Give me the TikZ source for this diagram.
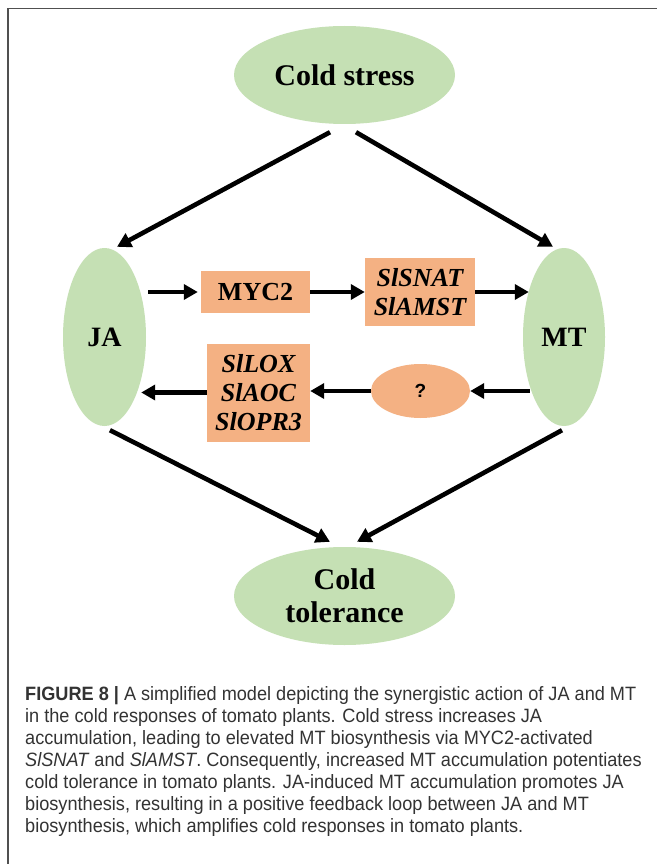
\documentclass[tikz,border=0pt]{standalone}
\usepackage{fontspec}
\setmainfont{Liberation Serif}
\newfontfamily\tnr{Liberation Serif}
\newfontfamily\capfont[FakeStretch=0.94]{Liberation Sans}
\newfontfamily\qfont{Liberation Sans}
\usetikzlibrary{arrows.meta,shapes.geometric}
\definecolor{lgreen}{HTML}{C5E0B4}
\definecolor{lorange}{HTML}{F4B183}
\definecolor{captxt}{HTML}{333333}
\definecolor{framec}{HTML}{505050}
\begin{document}
\begin{tikzpicture}[x=1pt,y=-1pt,
  oval/.style={ellipse, fill=lgreen, draw=none, inner sep=0pt},
  bigtxt/.style={font=\tnr\fontsize{30}{33}\selectfont\bfseries, align=center},
  midtxt/.style={font=\tnr\fontsize{28}{30}\selectfont\bfseries},
  gene/.style={rectangle, fill=lorange, draw=none, inner sep=0pt, align=center,
    font=\tnr\fontsize{26}{29}\selectfont\bfseries},
  arr/.style={line width=4.6pt, -{Triangle[length=14pt,width=15pt]}},
  ]
\useasboundingbox (0,0) rectangle (657,864);
\fill[white] (0,0) rectangle (657,864);
% frame
\draw[line width=1.5pt, framec] (8,864) -- (8,8.5) -- (657,8.5);

% nodes
\node[oval, bigtxt, minimum width=221pt, minimum height=98pt] (CS) at (344.5,75) {Cold stress};
\node[oval, bigtxt, minimum width=221pt, minimum height=98pt] (CT) at (344.5,596) {Cold\\tolerance};
\node[oval, midtxt, minimum width=83pt, minimum height=178pt] (JA) at (104.5,337) {JA};
\node[oval, midtxt, minimum width=82pt, minimum height=178pt] (MT) at (564,337) {MT};
\node[gene, minimum width=109pt, minimum height=42pt] (myc) at (255.5,292) {MYC2};
\node[gene, minimum width=110pt, minimum height=68pt] (snat) at (420,292) {\itshape SlSNAT\\\itshape SlAMST};
\node[gene, minimum width=103pt, minimum height=98pt] (lox) at (258.5,392.5) {\itshape SlLOX\\\itshape SlAOC\\\itshape SlOPR3};
\node[ellipse, fill=lorange, inner sep=0pt, minimum width=99pt, minimum height=54pt,
  font=\qfont\fontsize{19}{22}\selectfont\bfseries] (q) at (420.5,391) {?};

% connectors
\draw[arr] ([xshift=-14.5pt,yshift=-8pt]CS.south) -- ([xshift=12.5pt,yshift=1pt]JA.north);
\draw[arr] ([xshift=11.5pt,yshift=-8pt]CS.south) -- ([xshift=-11pt,yshift=1pt]MT.north);
\draw[arr, shorten <=2pt, shorten >=3pt] (JA.east |- myc.west) -- (myc.west);
\draw[arr, shorten >=0pt] (myc.east) -- (snat.west);
\draw[arr, shorten >=-6pt] (snat.east) -- (snat.east -| MT.west);
\draw[arr, shorten <=-7pt] (q.east -| MT.west) -- (q.east);
\draw[arr] (q.west) -- (q.west -| lox.east);
\draw[arr, shorten >=-5pt] (lox.west) -- (lox.west -| JA.east);
\draw[arr] ([xshift=5.5pt,yshift=-4pt]JA.south) -- ([xshift=-14.5pt,yshift=5pt]CT.north);
\draw[arr] ([xshift=-2pt,yshift=-4pt]MT.south) -- ([xshift=12.5pt,yshift=5pt]CT.north);

% caption
\node[anchor=north west, inner sep=0pt, align=left, text=captxt,
  font=\capfont\fontsize{19.3}{22}\selectfont] (cap) at (25,686) {%
\textbf{FIGURE 8 |} A simplified model depicting the synergistic action of JA and MT\\
in the cold responses of tomato plants. Cold stress increases JA\\
accumulation, leading to elevated MT biosynthesis via MYC2-activated\\
\textit{SlSNAT} and \textit{SlAMST}. Consequently, increased MT accumulation potentiates\\
cold tolerance in tomato plants. JA-induced MT accumulation promotes JA\\
biosynthesis, resulting in a positive feedback loop between JA and MT\\
biosynthesis, which amplifies cold responses in tomato plants.};
\end{tikzpicture}
\end{document}
